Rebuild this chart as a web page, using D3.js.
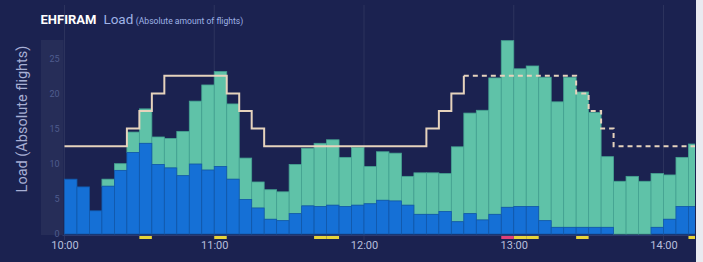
<!DOCTYPE html>
<html><head><meta charset="utf-8">
<script src="https://cdn.jsdelivr.net/npm/d3@7/dist/d3.min.js"></script>
<style>
html,body{margin:0;padding:0;background:#1b2250;overflow:hidden}
svg{display:block}
text{font-family:Roboto,"Noto Sans",sans-serif}
</style></head>
<body>
<svg id="chart" width="703" height="262"></svg>
<script>
// ---- data ----
const binStarts = ["10:00","10:05","10:10","10:15","10:20","10:25","10:30","10:35","10:40","10:45","10:50","10:55",
  "11:00","11:05","11:10","11:15","11:20","11:25","11:30","11:35","11:40","11:45","11:50","11:55",
  "12:00","12:05","12:10","12:15","12:20","12:25","12:30","12:35","12:40","12:45","12:50","12:55",
  "13:00","13:05","13:10","13:15","13:20","13:25","13:30","13:35","13:40","13:45","13:50","13:55",
  "14:00","14:05","14:10"];
const blueLoad = [7.8,6.7,3.3,6.8,9.05,11.6,12.9,9.9,9.4,8.3,9.95,9.1,
  9.6,7.8,4.9,3.7,2.1,1.9,2.9,4.0,3.9,4.1,3.9,4.1,
  4.3,4.8,4.7,4.1,2.8,2.8,3.2,1.75,2.9,2.0,2.8,3.8,
  3.9,3.9,1.9,0.95,0.95,0.95,0.95,0.95,0,0,0,0.95,
  2.1,3.9,3.9];
const totalLoad = [7.8,6.7,3.3,7.8,10.0,14.5,17.8,13.8,13.6,14.6,18.9,21.2,
  23.1,18.5,10.8,7.4,6.3,6.0,9.9,12.2,12.9,13.4,10.9,12.3,
  9.6,11.7,11.5,8.2,8.7,8.7,8.6,12.4,17.2,17.6,22.2,27.5,
  23.5,23.9,22.3,18.8,22.3,20.2,17.3,11.0,7.5,8.2,7.5,8.6,
  8.4,10.9,12.8];
const capSolidTimes = ["10:00","10:25","10:30","10:35","10:40","11:05","11:10","11:15","11:20","12:25","12:30","12:35","12:40"];
const capSolidValues = [12.5,15,17.5,20,22.5,20,17.5,15,12.5,15,17.5,20,22.5];
const capDashTimes = ["12:40","13:25","13:30","13:35","13:40","14:15"];
const capDashValues = [22.5,20,17.5,15,12.5,12.5];
const yellowMarks = ["10:30","11:00","11:40","11:45","13:00","13:05","13:25","14:10"];
const pinkMarks = ["12:55"];
const xTickLabels = ["10:00","11:00","12:00","13:00","14:00"];
const yTickValues = [0,5,10,15,20,25];

// ---- helpers ----
const parse = s => { const [h,m] = s.split(":").map(Number); return new Date(2020,0,1,h,m); };
const addMin = (d,m) => new Date(d.getTime()+m*60000);

const svg = d3.select("#chart");
const W = 703, H = 262;
const pLeft = 64.5, pRight = 695, pTop = 58.25, pBottom = 234;

const x = d3.scaleTime()
  .domain([parse("10:00"), addMin(parse("10:00"), (pRight-pLeft)/149.75*60)])
  .range([pLeft, pRight]);
const y = d3.scaleLinear().domain([0,25]).range([pBottom, pTop]);

// background
svg.append("rect").attr("width",W).attr("height",H).attr("fill","#1b2250");
svg.append("rect").attr("x",696).attr("y",0).attr("width",7).attr("height",H).attr("fill","#e9eaf0");

// y axis band
svg.append("rect").attr("x",41).attr("y",40).attr("width",22.5).attr("height",195)
  .attr("fill","#ffffff").attr("fill-opacity",0.05);

// gridlines
svg.append("g").selectAll("line").data(xTickLabels).join("line")
  .attr("x1",d=>x(parse(d))).attr("x2",d=>x(parse(d)))
  .attr("y1",5).attr("y2",240)
  .attr("stroke","#ffffff").attr("stroke-opacity",0.08).attr("stroke-width",1);

// clip
svg.append("clipPath").attr("id","plotclip").append("rect")
  .attr("x",pLeft-1).attr("y",0).attr("width",pRight-pLeft+1).attr("height",H);

const data = binStarts.map((t,i)=>({t:parse(t), blue:blueLoad[i], total:totalLoad[i]}));
const bw = x(addMin(parse("10:00"),5)) - x(parse("10:00"));

const bars = svg.append("g").attr("clip-path","url(#plotclip)");
bars.selectAll("rect.teal").data(data).join("rect").attr("class","teal")
  .attr("x",d=>x(d.t)).attr("width",bw)
  .attr("y",d=>y(d.total)).attr("height",d=>y(d.blue)-y(d.total))
  .attr("fill","#5fc2a8").attr("stroke","#45a392").attr("stroke-width",0.8);
bars.selectAll("rect.blue").data(data.filter(d=>d.blue>0)).join("rect").attr("class","blue")
  .attr("x",d=>x(d.t)).attr("width",bw)
  .attr("y",d=>y(d.blue)).attr("height",d=>y(0)-y(d.blue))
  .attr("fill","#1570d6").attr("stroke","#1259ab").attr("stroke-width",0.8);

// x axis line
svg.append("line").attr("x1",pLeft-2).attr("x2",pRight).attr("y1",235.5).attr("y2",235.5)
  .attr("stroke","#2c3a70").attr("stroke-width",1);

// markers
const marks = yellowMarks.map(t=>({t:parse(t),c:"#e8d43a"})).concat(pinkMarks.map(t=>({t:parse(t),c:"#e0407a"})));
svg.append("g").attr("clip-path","url(#plotclip)").selectAll("rect").data(marks).join("rect")
  .attr("x",d=>x(d.t)).attr("width",bw).attr("y",236).attr("height",3).attr("fill",d=>d.c);

// capacity lines
const stepLine = d3.line().x(d=>x(d[0])).y(d=>y(d[1])).curve(d3.curveStepAfter);
svg.append("path").attr("clip-path","url(#plotclip)")
  .datum(capSolidTimes.map((t,i)=>[parse(t),capSolidValues[i]]))
  .attr("d",stepLine).attr("fill","none").attr("stroke","#e6d3bd").attr("stroke-width",2);
svg.append("path").attr("clip-path","url(#plotclip)")
  .datum(capDashTimes.map((t,i)=>[parse(t),capDashValues[i]]))
  .attr("d",stepLine).attr("fill","none").attr("stroke","#e6d3bd").attr("stroke-width",2)
  .attr("stroke-dasharray","5,4");

// x axis
const xAxis = d3.axisBottom(x).tickValues(xTickLabels.map(parse)).tickFormat(d3.timeFormat("%H:%M")).tickSize(0).tickPadding(0);
const gx = svg.append("g").attr("transform","translate(0,241)").call(xAxis);
gx.select(".domain").remove();
gx.selectAll("text").attr("fill","#b7bfdc").attr("font-size",11).attr("dy","0.71em");

// y axis
const yAxis = d3.axisLeft(y).tickValues(yTickValues).tickSize(0).tickPadding(0);
const gy = svg.append("g").attr("transform","translate(59.5,0)").call(yAxis);
gy.select(".domain").remove();
gy.selectAll("text").attr("fill","#4f5c8e").attr("font-size",9);

// y title
svg.append("text").attr("transform","translate(27,119) rotate(-90)")
  .attr("text-anchor","middle").attr("fill","#a7afd4").attr("font-size",14.5)
  .text("Load (Absolute flights)");

// title
const title = svg.append("text").attr("x",40.5).attr("y",24);
title.append("tspan").attr("font-weight","bold").attr("fill","#ffffff").attr("font-size",13).text("EHFIRAM");
title.append("tspan").attr("dx",7).attr("fill","#9fb3e6").attr("font-size",13.5).text("Load");
title.append("tspan").attr("dx",2.5).attr("fill","#9fb3e6").attr("font-size",8.6).text("(Absolute amount of flights)");
</script>
</body></html>
